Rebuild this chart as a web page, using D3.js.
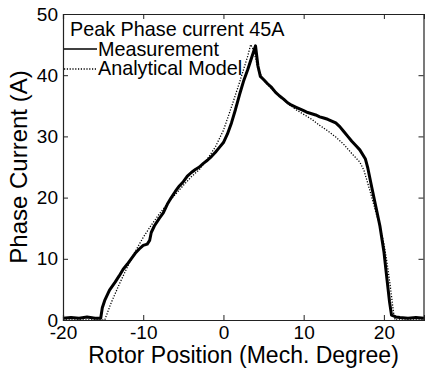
<!DOCTYPE html>
<html>
<head>
<meta charset="utf-8">
<script src="https://cdn.jsdelivr.net/npm/d3@7"></script>
<style>
  body { margin: 0; background: #fff; }
  text { font-family: Arial, "Liberation Sans", sans-serif; fill: #000; }
</style>
</head>
<body>
<div id="chart"></div>
<script>
// rotor position (deg) vs phase current (A)
const measurement = [
  [-20, 0.3], [-19, 0.4], [-18, 0.3], [-17, 0.5], [-16, 0.3], [-15.3, 0.3],
  [-15.1, 2.0], [-14.8, 3.2], [-14.2, 4.9], [-13.5, 6.2], [-13, 7.2], [-12.5, 8.3],
  [-12, 9.1], [-11.5, 10.0], [-11, 10.9], [-10.5, 11.6], [-10, 12.2], [-9.5, 12.4],
  [-9.2, 13.0], [-9, 14.3], [-8.6, 15.4], [-8, 16.6], [-7.5, 17.5], [-7, 18.9],
  [-6.5, 20.0], [-6, 21.0], [-5.5, 21.9], [-5, 22.6], [-4.5, 23.5], [-4, 24.1],
  [-3.5, 24.6], [-3, 25.0], [-2.5, 25.6], [-2, 26.1], [-1.5, 26.7], [-1, 27.4],
  [-0.5, 28.2], [0, 29.0], [0.5, 30.4], [1, 32.2], [1.5, 34.4], [2, 36.8],
  [2.5, 39.0], [3, 40.8], [3.5, 42.8], [4, 44.8], [4.3, 41.5], [4.6, 39.8],
  [5, 39.3], [5.5, 38.6], [6, 38.0], [6.5, 37.2], [7, 36.6], [7.5, 36.1],
  [8, 35.5], [8.5, 35.1], [9, 34.8], [9.5, 34.5], [10, 34.2], [10.5, 33.9],
  [11, 33.7], [11.5, 33.5], [12, 33.2], [12.5, 33.0], [13, 32.8], [13.5, 32.5],
  [14, 32.2], [14.5, 31.6], [15, 30.8], [15.5, 30.0], [16, 29.2], [16.5, 28.5],
  [17, 27.8], [17.7, 26.3], [18, 24.8], [18.5, 21.6], [19, 18.5], [19.5, 15.4],
  [20, 11.2], [20.4, 6.5], [20.7, 3.0], [20.95, 0.8], [21.5, 0.5], [22, 0.4],
  [23, 0.3], [24, 0.4], [25, 0.3]
];

const model = [
  [-20, 0], [-14.8, 0], [-14, 2.8], [-13, 5.8], [-12, 8.6], [-11, 11.2], [-10, 13.5],
  [-9, 15.5], [-8, 17.3], [-7, 19.0], [-6, 20.5], [-5, 22.0], [-4, 23.4],
  [-3, 24.6], [-2, 26.3], [-1, 28.3], [0, 31.0], [1, 34.8], [2, 38.8],
  [3, 43.0], [3.4, 45.0], [3.8, 44.0], [4.3, 41.0], [5, 39.2], [6, 37.8],
  [7, 36.5], [8, 35.4], [9, 34.4], [10, 33.6], [11, 32.8], [12, 31.8],
  [13, 30.9], [14, 29.9], [15, 28.7], [16, 27.2], [17, 25.8], [17.5, 24.5],
  [18, 22.3], [18.5, 20.0], [19, 17.6], [19.5, 15.3], [20, 12.5], [20.4, 9.3],
  [20.8, 5.5], [21.2, 1.2], [21.4, 0], [25, 0]
];

const xTicks = [-20, -10, 0, 10, 20];
const yTicks = [0, 10, 20, 30, 40, 50];

const width = 425, height = 374;
const margin = { top: 14, right: 1, bottom: 54, left: 63 };

const svg = d3.select('#chart').append('svg')
  .attr('width', width)
  .attr('height', height);

svg.append('rect').attr('width', width).attr('height', height).attr('fill', '#fff');

const x = d3.scaleLinear().domain([-20, 25]).range([margin.left, width - margin.right]);
const y = d3.scaleLinear().domain([0, 50]).range([height - margin.bottom, margin.top]);

const line = d3.line().x(d => x(d[0])).y(d => y(d[1]));

// data lines
svg.append('path')
  .datum(model)
  .attr('d', line)
  .attr('fill', 'none')
  .attr('stroke', '#000')
  .attr('stroke-width', 1.3)
  .attr('stroke-dasharray', '1.2,1.6');

svg.append('path')
  .datum(measurement)
  .attr('d', line)
  .attr('fill', 'none')
  .attr('stroke', '#000')
  .attr('stroke-width', 3)
  .attr('stroke-linejoin', 'round');

// axes (matlab style box with inward ticks)
const tickLen = 5;
const axBottom = svg.append('g').attr('transform', `translate(0,${y(0)})`)
  .call(d3.axisBottom(x).tickValues(xTicks).tickSize(-tickLen).tickPadding(6)
    .tickFormat(d => d < 0 ? '-' + Math.abs(d) : d));
const axTop = svg.append('g').attr('transform', `translate(0,${y(50)})`)
  .call(d3.axisTop(x).tickValues(xTicks).tickSize(-tickLen).tickFormat(''));
const axLeft = svg.append('g').attr('transform', `translate(${x(-20)},0)`)
  .call(d3.axisLeft(y).tickValues(yTicks).tickSize(-tickLen).tickPadding(5));
const axRight = svg.append('g').attr('transform', `translate(${x(25) - 0.5},0)`)
  .call(d3.axisRight(y).tickValues(yTicks).tickSize(-tickLen).tickFormat(''));

[axBottom, axTop, axLeft, axRight].forEach(g => {
  g.select('.domain').attr('stroke', '#222').attr('stroke-width', 1.2);
  g.selectAll('.tick line').attr('stroke', '#222');
  g.selectAll('text').style('font-size', '19px').attr('fill', '#000');
});

// axis labels
svg.append('text')
  .attr('x', (x(-20) + x(25)) / 2)
  .attr('y', 363)
  .attr('text-anchor', 'middle')
  .style('font-size', '23px')
  .text('Rotor Position (Mech. Degree)');

svg.append('text')
  .attr('transform', `translate(27,${(y(0) + y(50)) / 2}) rotate(-90)`)
  .attr('text-anchor', 'middle')
  .style('font-size', '24px')
  .text('Phase Current (A)');

// legend
const lg = svg.append('g');
lg.append('text').attr('x', 70).attr('y', 36).style('font-size', '19.8px')
  .text('Peak Phase current 45A');
lg.append('line').attr('x1', 64).attr('x2', 97).attr('y1', 49).attr('y2', 49)
  .attr('stroke', '#000').attr('stroke-width', 1.6);
lg.append('text').attr('x', 98).attr('y', 56).style('font-size', '19.8px')
  .text('Measurement');
lg.append('line').attr('x1', 64).attr('x2', 97).attr('y1', 69).attr('y2', 69)
  .attr('stroke', '#000').attr('stroke-width', 1.3).attr('stroke-dasharray', '1.2,1.6');
lg.append('text').attr('x', 98).attr('y', 75).style('font-size', '19.8px')
  .text('Analytical Model');
</script>
</body>
</html>
